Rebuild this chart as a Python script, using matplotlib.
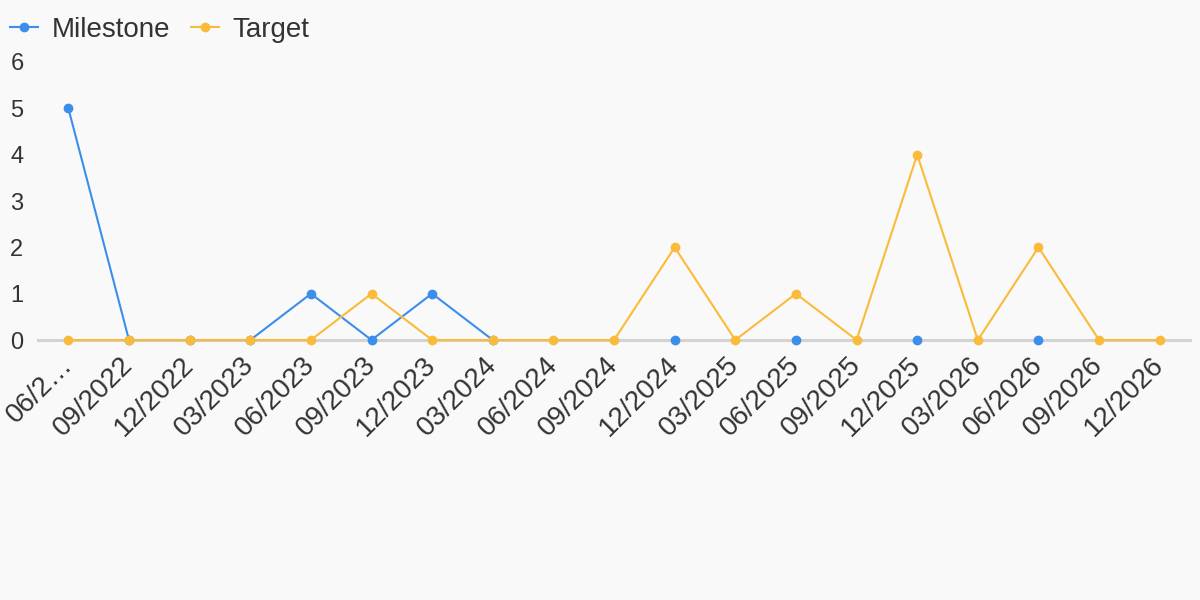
import matplotlib
matplotlib.use("Agg")
import matplotlib.pyplot as plt

plt.rcParams['font.family'] = ['Liberation Sans', 'DejaVu Sans']

labels = ['06/2…', '09/2022', '12/2022', '03/2023', '06/2023', '09/2023', '12/2023',
          '03/2024', '06/2024', '09/2024', '12/2024', '03/2025', '06/2025', '09/2025',
          '12/2025', '03/2026', '06/2026', '09/2026', '12/2026']
nan = float('nan')
milestone = [5, 0, 0, 0, 1, 0, 1, 0, nan, nan, 0, nan, 0, nan, 0, nan, 0, nan, nan]
target = [0, 0, 0, 0, 0, 1, 0, 0, 0, 0, 2, 0, 1, 0, 4, 0, 2, 0, 0]

bg = '#f9f9f9'
blue = '#3b8eea'
orange = '#fbbb3a'
txt = '#333333'

fig = plt.figure(figsize=(12, 6), dpi=100, facecolor=bg)
ax = fig.add_axes([0.0317, 0.4333, 0.96, 0.4634], facecolor=bg)

x = list(range(len(labels)))
ax.axhline(0, color='#d3d3d3', lw=2.2, zorder=1, clip_on=False)
ax.plot(x, milestone, color=blue, lw=1.5, marker='o', ms=6, label='Milestone',
        clip_on=False, zorder=3)
ax.plot(x, target, color=orange, lw=1.5, marker='o', ms=6, label='Target',
        clip_on=False, zorder=4)

ax.set_xlim(-0.5, 18.5)
ax.set_ylim(0, 6)
ax.set_yticks(range(7))
ax.set_yticklabels([str(v) for v in range(7)], ha='left')
ax.set_xticks(x)
ax.set_xticklabels(labels, rotation=45, ha='right', va='center', rotation_mode='anchor',
                   fontsize=20)
for s in ax.spines.values():
    s.set_visible(False)
ax.tick_params(axis='both', length=0, colors=txt)
ax.tick_params(axis='y', pad=20, labelsize=17)
ax.tick_params(axis='x', pad=15)

fig.legend(loc='upper left', bbox_to_anchor=(0.0, 0.988), ncol=2, frameon=False,
           fontsize=20, labelcolor=txt, handlelength=1.0, handletextpad=0.5,
           columnspacing=0.75, borderaxespad=0.0, borderpad=0.36)

fig.savefig('out.png', dpi=100, facecolor=bg)
